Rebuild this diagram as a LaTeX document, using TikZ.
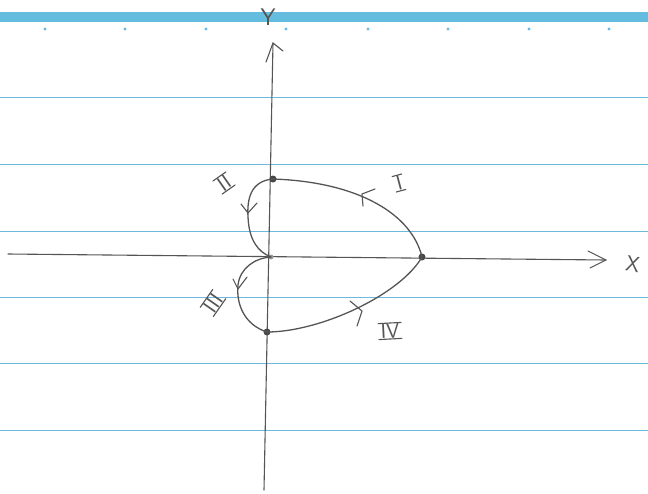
\documentclass[tikz,border=0pt]{standalone}
\usetikzlibrary{calc}
\definecolor{pencil}{RGB}{85,85,85}
\definecolor{ruled}{RGB}{110,185,222}
\definecolor{band}{RGB}{100,188,222}
\begin{document}
\begin{tikzpicture}[x=1pt,y=-1pt,
  pen/.style={draw=pencil,line width=1.3pt,line cap=round,line join=round},
  ruleline/.style={draw=ruled,line width=1.3pt},
  dotpt/.style={circle,fill=pencil!85!black,inner sep=0pt,minimum size=7pt},
  numeral/.style={text=pencil,font=\sffamily\fontsize{21}{21}\selectfont,inner xsep=2pt,inner ysep=0.5pt}]
\useasboundingbox (0,0) rectangle (648,493);
\fill[white] (0,0) rectangle (648,493);
% paper
\fill[band] (0,12) rectangle (648,22);
\foreach \x in {45,125,206,286,368,448,529,609} \fill[band] (\x,29) circle (1.6pt);
\foreach \y in {97.5,164.5,231.5,297.5,363.5,430.5} \draw[ruleline] (0,\y) -- (648,\y);
% axes
\coordinate (xs) at (8,254);
\coordinate (xe) at (606,260);
\coordinate (ys) at (264,490);
\coordinate (ye) at (273,43);
\draw[pen,line width=1.1pt] (xs) -- (xe);
\draw[pen,line width=1.1pt] (588,251) -- (xe) -- (590,268);
\draw[pen,line width=1.1pt] (ys) -- (ye);
\draw[pen,line width=1.1pt] (266,62) -- (ye) -- (283,51);
\node[text=pencil,font=\sffamily\fontsize{22}{22}\selectfont,rotate=-10] (xl) at (633,264) {X};
\node[text=pencil,font=\sffamily\fontsize{24}{24}\selectfont] (yl) at (268,17) {Y};
% key points
\node[dotpt] (top) at (273,179) {};
\node[dotpt,fill=pencil!60,minimum size=5pt] (org) at (271,257) {};
\node[dotpt] (rgt) at (422,257) {};
\node[dotpt] (bot) at (267,332) {};
% curves
\draw[pen] (rgt.center) .. controls (412,215) and (360,182) .. (top.center);
\draw[pen] (top.center) .. controls (250,181) and (247,200) .. (248,217)
           .. controls (249,240) and (258,252) .. (org.center);
\draw[pen] (org.center) .. controls (255,258) and (240,268) .. (238,285)
           .. controls (236,305) and (245,325) .. (bot.center);
\draw[pen] (bot.center) .. controls (320,332) and (400,295) .. (rgt.center);
% direction marks
\draw[pen,line width=1.1pt] (375,189) -- (362,194) -- (363,206);
\draw[pen,line width=1.1pt] (241,204) -- (248,213) -- (257,203);
\draw[pen,line width=1.1pt] (233,279) -- (238,289) -- (247,277);
\draw[pen,line width=1.1pt] (350,301) -- (362,311) -- (357,326);
% labels
\node[numeral,rotate=15] (n1) at (399,183) {I};
\node[numeral,rotate=35] (n2) at (224,183) {II};
\node[numeral,rotate=55] (n3) at (213,303) {III};
\node[numeral,rotate=3] (n4) at (390,331) {IV};
\foreach \n in {n1,n2,n3,n4}
  \draw[pen,line width=1.1pt] (\n.north west) -- (\n.north east)
                            (\n.south west) -- (\n.south east);
\end{tikzpicture}
\end{document}
